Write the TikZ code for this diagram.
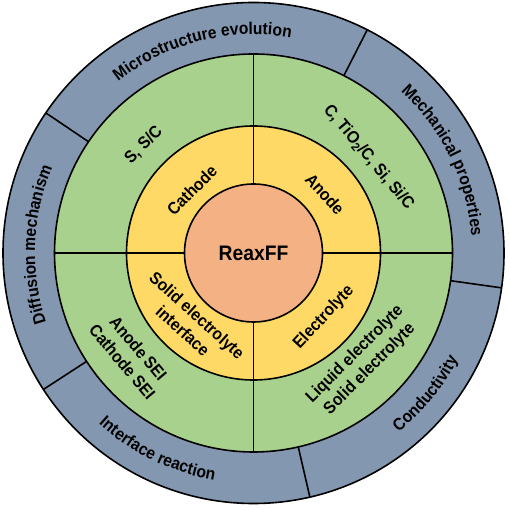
\documentclass[tikz,border=0pt]{standalone}
\usepackage{fontspec}
\setmainfont{Liberation Sans}[FakeStretch=0.92]
\usetikzlibrary{decorations.text}
\definecolor{outerc}{HTML}{8497B0}
\definecolor{greenc}{HTML}{A9D18E}
\definecolor{yellowc}{HTML}{FFD966}
\definecolor{corec}{HTML}{F4B183}
\newcommand\ringfont{\bfseries\fontsize{17}{17}\selectfont}
\tikzset{
  ring/.style={draw=black, line width=1.6pt},
  divider/.style={draw=black, line width=1.6pt},
  intext/.style={font=\bfseries\fontsize{17}{21}\selectfont, align=center, inner sep=0pt},
  coretext/.style={font=\bfseries\fontsize{21}{21}\selectfont, inner sep=0pt},
  arctext/.style={decorate, decoration={text along path, text align=center, text={|\ringfont|#1}}}
}
\begin{document}
\begin{tikzpicture}[x=1pt,y=1pt]
\useasboundingbox (0,0) rectangle (510,510);
\fill[white] (0,0) rectangle (510,510);
\begin{scope}[shift={(253.5,257)}]
  % outer ring
  \path[ring, fill=outerc] (0,0) circle (250.5);
  \foreach \a in {63,146,213,283,352}
    \draw[divider] (\a:199) -- (\a:250.5);
  % green ring
  \path[ring, fill=greenc] (0,0) circle (199);
  % yellow ring
  \path[ring, fill=yellowc] (0,0) circle (127);
  % quadrant lines
  \draw[divider] (0,199) -- (0,-199);
  \draw[divider] (-199,0) -- (199,0);
  % core
  \path[ring, fill=corec] (0,0) circle (69);

  % curved labels on outer ring
  \path[arctext={Microstructure evolution}] (140:218.5) arc (140:68.4:218.5);
  \path[arctext={Mechanical properties}] (62:218.5) arc (62:-10:218.5);
  \path[arctext={Conductivity}] (-74.5:230.5) arc (-74.5:-4:230.5);
  \path[arctext={Interface reaction}] (209:230.5) arc (209:279:230.5);
  \path[arctext={Diffusion mechanism}] (210.7:218.5) arc (210.7:144.7:218.5);

  % green ring texts
  \node[intext, rotate=45] (cmat) at (135.5:154) {S, S/C};
  \node[intext, rotate=-50] (amat) at (39.7:150) {C, TiO\textsubscript{2}/C, Si, Si/C};
  \node[intext, rotate=-50] (sei) at (219.7:160) {Anode SEI\\Cathode SEI};
  \node[intext, rotate=45] (elmat) at (-45:154) {Liquid electrolyte\\Solid electrolyte};

  % yellow ring texts
  \node[intext, rotate=45] (cath) at (134.5:88) {Cathode};
  \node[intext, rotate=-48] (anode) at (39.5:92.7) {Anode};
  \node[intext, rotate=-42] (sif) at (227.8:94.5) {Solid electrolyte\\interface};
  \node[intext, rotate=47] (elec) at (-42.5:95.5) {Electrolyte};

  % core
  \node[coretext] (reax) at (0,0) {ReaxFF};
\end{scope}
\end{tikzpicture}
\end{document}
